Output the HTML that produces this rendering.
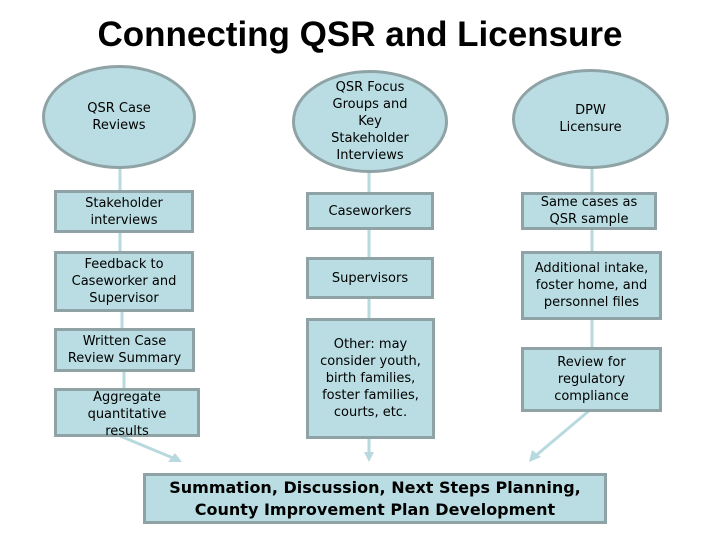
<!DOCTYPE html>
<html><head><meta charset="utf-8"><style>
body{margin:0;width:720px;height:540px;background:#fff;position:relative;overflow:hidden;font-family:"DejaVu Sans","Liberation Sans",sans-serif;}
.t{position:absolute;left:0;width:720px;top:15px;text-align:center;font:bold 35px "Liberation Sans",sans-serif;color:#000;}
.b{position:absolute;box-sizing:border-box;background:#b9dde2;border:3px solid #8fa3a6;display:flex;align-items:center;justify-content:center;text-align:center;font-size:13px;line-height:17px;color:#000;}
.e{border-radius:50%;}
svg{position:absolute;left:0;top:0;}
</style></head><body>
<div class="t">Connecting QSR and Licensure</div>
<svg width="720" height="540">
<g stroke="#b8dade" stroke-width="3" fill="none">
<line x1="120" y1="165" x2="120" y2="192"/><line x1="120" y1="232" x2="120" y2="252"/>
<line x1="122" y1="310" x2="122" y2="330"/><line x1="124" y1="370" x2="124" y2="390"/>
<line x1="369" y1="170" x2="369" y2="194"/><line x1="369" y1="229" x2="369" y2="258"/><line x1="369" y1="297" x2="369" y2="320"/>
<line x1="592" y1="168" x2="592" y2="194"/><line x1="592" y1="228" x2="592" y2="253"/><line x1="592" y1="318" x2="592" y2="349"/>
<line x1="120" y1="436" x2="178" y2="460"/><line x1="369" y1="438" x2="369" y2="458"/><line x1="590" y1="410" x2="533" y2="458"/>
</g>
<g fill="#b8dade">
<polygon points="182,462 168,462 175,453"/>
<polygon points="369,462 364,452 374,452"/>
<polygon points="529,462 532,450 541,457"/>
</g>
</svg>
<div class="b e" style="left:42px;top:65px;width:154px;height:104px;">QSR Case<br>Reviews</div>
<div class="b e" style="left:292px;top:70px;width:156px;height:103px;">QSR Focus<br>Groups and<br>Key<br>Stakeholder<br>Interviews</div>
<div class="b e" style="left:512px;top:69px;width:157px;height:100px;">DPW<br>Licensure</div>
<div class="b" style="left:54px;top:190px;width:140px;height:43px;">Stakeholder<br>interviews</div>
<div class="b" style="left:54px;top:251px;width:140px;height:61px;">Feedback to<br>Caseworker and<br>Supervisor</div>
<div class="b" style="left:54px;top:328px;width:141px;height:44px;">Written Case<br>Review Summary</div>
<div class="b" style="left:54px;top:388px;width:146px;height:49px;line-height:17px;padding-top:3px;">Aggregate<br>quantitative<br>results</div>
<div class="b" style="left:306px;top:192px;width:128px;height:38px;">Caseworkers</div>
<div class="b" style="left:306px;top:257px;width:128px;height:42px;">Supervisors</div>
<div class="b" style="left:306px;top:318px;width:129px;height:121px;">Other: may<br>consider youth,<br>birth families,<br>foster families,<br>courts, etc.</div>
<div class="b" style="left:521px;top:192px;width:136px;height:38px;">Same cases as<br>QSR sample</div>
<div class="b" style="left:521px;top:251px;width:141px;height:69px;">Additional intake,<br>foster home, and<br>personnel files</div>
<div class="b" style="left:521px;top:347px;width:141px;height:65px;">Review for<br>regulatory<br>compliance</div>
<div class="b" style="left:143px;top:473px;width:464px;height:51px;font-weight:bold;font-size:16px;line-height:22px;">Summation, Discussion, Next Steps Planning,<br>County Improvement Plan Development</div>
</body></html>
